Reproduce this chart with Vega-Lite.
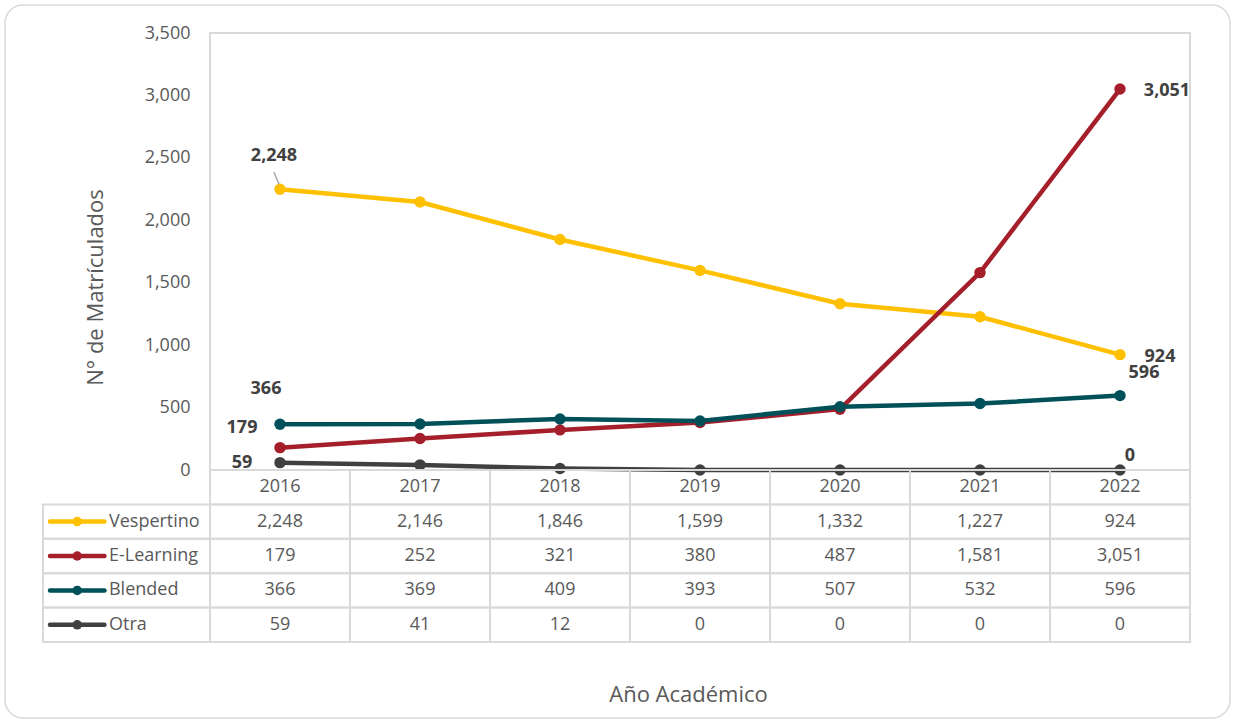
{
  "$schema": "https://vega.github.io/schema/vega-lite/v6.json",
  "width": 1225,
  "height": 713,
  "padding": {"left": 5, "top": 5, "right": 5, "bottom": 5},
  "autosize": {"type": "none"},
  "background": "white",
  "config": {
    "view": {"stroke": "#d9d9d9", "strokeWidth": 1.5, "cornerRadius": 18},
    "font": "Open Sans",
    "text": {"font": "Open Sans"},
    "axis": {"labelFont": "Open Sans", "titleFont": "Open Sans"}
  },
  "datasets": {
    "d": [
      {"serie": "Vespertino", "year": 2016, "value": 2248},
      {"serie": "Vespertino", "year": 2017, "value": 2146},
      {"serie": "Vespertino", "year": 2018, "value": 1846},
      {"serie": "Vespertino", "year": 2019, "value": 1599},
      {"serie": "Vespertino", "year": 2020, "value": 1332},
      {"serie": "Vespertino", "year": 2021, "value": 1227},
      {"serie": "Vespertino", "year": 2022, "value": 924},
      {"serie": "E-Learning", "year": 2016, "value": 179},
      {"serie": "E-Learning", "year": 2017, "value": 252},
      {"serie": "E-Learning", "year": 2018, "value": 321},
      {"serie": "E-Learning", "year": 2019, "value": 380},
      {"serie": "E-Learning", "year": 2020, "value": 487},
      {"serie": "E-Learning", "year": 2021, "value": 1581},
      {"serie": "E-Learning", "year": 2022, "value": 3051},
      {"serie": "Blended", "year": 2016, "value": 366},
      {"serie": "Blended", "year": 2017, "value": 369},
      {"serie": "Blended", "year": 2018, "value": 409},
      {"serie": "Blended", "year": 2019, "value": 393},
      {"serie": "Blended", "year": 2020, "value": 507},
      {"serie": "Blended", "year": 2021, "value": 532},
      {"serie": "Blended", "year": 2022, "value": 596},
      {"serie": "Otra", "year": 2016, "value": 59},
      {"serie": "Otra", "year": 2017, "value": 41},
      {"serie": "Otra", "year": 2018, "value": 12},
      {"serie": "Otra", "year": 2019, "value": 0},
      {"serie": "Otra", "year": 2020, "value": 0},
      {"serie": "Otra", "year": 2021, "value": 0},
      {"serie": "Otra", "year": 2022, "value": 0}
    ]
  },
  "resolve": {"scale": {"x": "independent", "y": "independent"}},
  "layer": [
    {
      "data": {"values": [{}]},
      "mark": {"type": "rect", "filled": false, "stroke": "#d9d9d9", "strokeWidth": 2},
      "encoding": {
        "x": {"datum": 0, "type": "quantitative", "scale": {"domain": [0, 1], "range": [205, 1185], "nice": false, "zero": false}, "axis": null},
        "x2": {"datum": 1},
        "y": {"datum": 0, "type": "quantitative", "scale": {"domain": [0, 3500], "range": [465, 28], "nice": false, "zero": false}, "axis": null},
        "y2": {"datum": 3500}
      }
    },
    {
      "data": {"name": "d"},
      "encoding": {
        "x": {"field": "year", "type": "ordinal", "scale": {"type": "band", "domain": [2016, 2017, 2018, 2019, 2020, 2021, 2022], "range": [205, 1185], "paddingInner": 0, "paddingOuter": 0}, "axis": null},
        "y": {"field": "value", "type": "quantitative", "scale": {"domain": [0, 3500], "range": [465, 28], "nice": false, "zero": true},
          "axis": {"orient": "left", "offset": -205, "values": [0, 500, 1000, 1500, 2000, 2500, 3000, 3500], "labelExpr": "format(datum.value, ',')", "domain": false, "ticks": false, "tickSize": 0, "grid": false, "labelPadding": 20, "labelFontSize": 18, "labelColor": "#595959", "labelOverlap": false, "title": "N° de Matrículados", "titleFontSize": 22, "titleFontWeight": "normal", "titleColor": "#595959", "titleX": -115, "titleY": 282, "titleBaseline": "middle", "titleAngle": -90}},
        "color": {"field": "serie", "type": "nominal", "scale": {"domain": ["Vespertino", "E-Learning", "Blended", "Otra"], "range": ["#FFC000", "#A51F2B", "#00505A", "#404040"]}, "legend": null}
      },
      "layer": [
        {"mark": {"type": "line", "strokeWidth": 4.5}},
        {"mark": {"type": "point", "filled": true, "size": 130, "opacity": 1}},
        {
          "transform": [{"filter": "datum.serie == 'Vespertino' && datum.year == 2016"}],
          "mark": {"type": "rule", "stroke": "#a6a6a6", "strokeWidth": 1.5, "xOffset": -6, "yOffset": -17, "x2Offset": -1, "y2Offset": -5},
          "encoding": {"x2": {"field": "year"}, "y2": {"field": "value"}, "color": {"value": "#a6a6a6"}}
        },
        {"transform": [{"filter": "datum.serie == 'Vespertino' && datum.year == 2016"}], "mark": {"type": "text", "fontWeight": "bold", "fontSize": 18, "dx": -6, "dy": -33}, "encoding": {"text": {"field": "value", "type": "quantitative", "format": ","}, "color": {"value": "#404040"}}},
        {"transform": [{"filter": "datum.serie == 'Vespertino' && datum.year == 2022"}], "mark": {"type": "text", "fontWeight": "bold", "fontSize": 18, "dx": 40, "dy": 2}, "encoding": {"text": {"field": "value", "type": "quantitative", "format": ","}, "color": {"value": "#404040"}}},
        {"transform": [{"filter": "datum.serie == 'E-Learning' && datum.year == 2016"}], "mark": {"type": "text", "fontWeight": "bold", "fontSize": 18, "dx": -38, "dy": -20}, "encoding": {"text": {"field": "value", "type": "quantitative", "format": ","}, "color": {"value": "#404040"}}},
        {"transform": [{"filter": "datum.serie == 'E-Learning' && datum.year == 2022"}], "mark": {"type": "text", "fontWeight": "bold", "fontSize": 18, "dx": 47, "dy": 2}, "encoding": {"text": {"field": "value", "type": "quantitative", "format": ","}, "color": {"value": "#404040"}}},
        {"transform": [{"filter": "datum.serie == 'Blended' && datum.year == 2016"}], "mark": {"type": "text", "fontWeight": "bold", "fontSize": 18, "dx": -14, "dy": -35}, "encoding": {"text": {"field": "value", "type": "quantitative", "format": ","}, "color": {"value": "#404040"}}},
        {"transform": [{"filter": "datum.serie == 'Blended' && datum.year == 2022"}], "mark": {"type": "text", "fontWeight": "bold", "fontSize": 18, "dx": 24, "dy": -23}, "encoding": {"text": {"field": "value", "type": "quantitative", "format": ","}, "color": {"value": "#404040"}}},
        {"transform": [{"filter": "datum.serie == 'Otra' && datum.year == 2016"}], "mark": {"type": "text", "fontWeight": "bold", "fontSize": 18, "dx": -38, "dy": 0}, "encoding": {"text": {"field": "value", "type": "quantitative", "format": ","}, "color": {"value": "#404040"}}},
        {"transform": [{"filter": "datum.serie == 'Otra' && datum.year == 2022"}], "mark": {"type": "text", "fontWeight": "bold", "fontSize": 18, "dx": 10, "dy": -14}, "encoding": {"text": {"field": "value", "type": "quantitative", "format": ","}, "color": {"value": "#404040"}}}
      ]
    },
    {
      "data": {"name": "d"},
      "encoding": {
        "x": {"field": "year", "type": "ordinal", "scale": {"type": "band", "domain": [2016, 2017, 2018, 2019, 2020, 2021, 2022], "range": [205, 1185], "paddingInner": 0, "paddingOuter": 0},
          "axis": {"orient": "bottom", "labels": false, "ticks": false, "domain": false, "grid": false, "title": "Año Académico", "titleFontSize": 22, "titleFontWeight": "normal", "titleColor": "#595959", "titleX": 683, "titleY": -24, "titleBaseline": "middle", "titleAlign": "center"}}
      },
      "layer": [
        {"mark": {"type": "rect", "filled": false, "stroke": "#d9d9d9", "strokeWidth": 2},
         "encoding": {"y": {"field": "serie", "type": "nominal", "scale": {"type": "band", "domain": ["Año", "Vespertino", "E-Learning", "Blended", "Otra"], "range": [465, 637], "paddingInner": 0, "paddingOuter": 0}, "axis": null}}},
        {"transform": [{"filter": "datum.serie == 'Vespertino'"}],
         "mark": {"type": "rect", "filled": false, "stroke": "#d9d9d9", "strokeWidth": 2},
         "encoding": {"y": {"datum": "Año", "type": "nominal", "axis": null}}},
        {"mark": {"type": "text", "fontSize": 18, "color": "#595959"},
         "encoding": {"y": {"field": "serie", "type": "nominal", "axis": null}, "text": {"field": "value", "type": "quantitative", "format": ","}}},
        {"transform": [{"filter": "datum.serie == 'Vespertino'"}],
         "mark": {"type": "text", "fontSize": 18, "color": "#595959"},
         "encoding": {"y": {"datum": "Año", "type": "nominal", "axis": null}, "text": {"field": "year", "type": "ordinal"}}}
      ]
    },
    {
      "data": {"name": "d"},
      "transform": [{"filter": "datum.year == 2016"}],
      "encoding": {
        "y": {"field": "serie", "type": "nominal", "scale": {"type": "band", "domain": ["Año", "Vespertino", "E-Learning", "Blended", "Otra"], "range": [465, 637], "paddingInner": 0, "paddingOuter": 0}, "axis": null}
      },
      "layer": [
        {"mark": {"type": "rect", "filled": false, "stroke": "#d9d9d9", "strokeWidth": 2},
         "encoding": {"x": {"datum": 0, "type": "quantitative", "scale": {"domain": [0, 1], "range": [38, 205], "nice": false, "zero": false}, "axis": null}, "x2": {"datum": 1}}},
        {"mark": {"type": "rule", "strokeWidth": 4.5, "strokeCap": "round"},
         "encoding": {"x": {"datum": 0.042, "type": "quantitative", "axis": null}, "x2": {"datum": 0.368}, "color": {"field": "serie", "type": "nominal", "legend": null}}},
        {"mark": {"type": "point", "filled": true, "size": 90, "opacity": 1},
         "encoding": {"x": {"datum": 0.205, "type": "quantitative", "axis": null}, "color": {"field": "serie", "type": "nominal", "legend": null}}},
        {"mark": {"type": "text", "align": "left", "fontSize": 18, "color": "#595959"},
         "encoding": {"x": {"datum": 0.395, "type": "quantitative", "axis": null}, "text": {"field": "serie"}}}
      ]
    }
  ]
}
